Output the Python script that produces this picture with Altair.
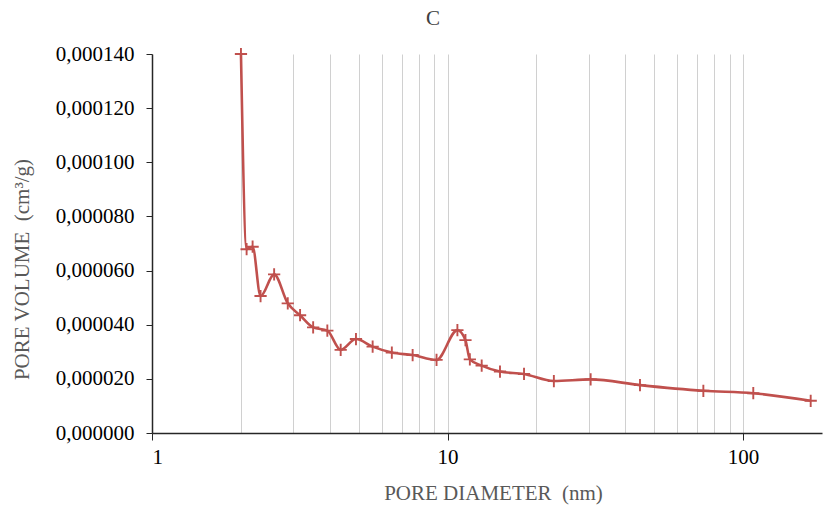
import altair as alt
import pandas as pd

# Pore size distribution, sample C
diameter_nm = [2.00, 2.09, 2.19, 2.33, 2.59, 2.88, 3.17, 3.51, 3.92, 4.35, 4.90,
               5.58, 6.48, 7.62, 9.18, 10.8, 11.5, 11.9, 13.05, 15.05, 18.15,
               22.9, 30.5, 44.8, 73.4, 108.3, 169.4]
pore_volume = [0.000140, 0.0000679, 0.0000688, 0.0000506, 0.0000586, 0.0000479,
               0.0000435, 0.0000390, 0.0000378, 0.0000307, 0.0000347, 0.0000319,
               0.0000297, 0.0000288, 0.0000270, 0.0000380, 0.0000343, 0.0000272,
               0.0000249, 0.0000227, 0.0000218, 0.0000192, 0.0000198, 0.0000177,
               0.0000156, 0.0000147, 0.0000119]

x_grid = [1, 2, 3, 4, 5, 6, 7, 8, 9, 10, 20, 30, 40, 50, 60, 70, 80, 90, 100]
x_major = [1, 10, 100]
y_ticks = [0, 0.00002, 0.00004, 0.00006, 0.00008, 0.00010, 0.00012, 0.00014]

df = pd.DataFrame({"d": diameter_nm, "v": pore_volume})

SERIF = "Liberation Serif"
RED = "#c0504d"
major_test = "indexof([1, 10, 100], datum.value) >= 0"
NBSP = "\u00a0"

x_enc = alt.X(
    "d:Q",
    scale=alt.Scale(type="log", domain=[1, 185], nice=False, clamp=False),
    axis=alt.Axis(
        values=x_grid,
        grid=True,
        gridColor="#d0d0d0",
        gridWidth=1,
        labelExpr=f"{major_test} ? format(datum.value, 'd') : ''",
        labelOverlap=False,
        labelFont=SERIF,
        labelFontSize=21,
        labelColor="#000000",
        labelPadding=6,
        tickSize=7,
        tickColor="#262626",
        tickOpacity={"condition": {"test": major_test, "value": 1}, "value": 0},
        domainColor="#262626",
        domainWidth=1.5,
        title=f"PORE DIAMETER{NBSP}{NBSP}(nm)",
        titleFont=SERIF,
        titleFontSize=21,
        titleFontWeight="normal",
        titleColor="#595959",
        titleAlign="center",
        titleBaseline="alphabetic",
        titleX=341,
        titleY=66,
    ),
)

y_enc = alt.Y(
    "v:Q",
    scale=alt.Scale(domain=[0, 0.00014], nice=False),
    axis=alt.Axis(
        values=y_ticks,
        grid=False,
        labelExpr="replace(format(datum.value, '.6f'), '.', ',')",
        labelFont=SERIF,
        labelFontSize=21,
        labelColor="#000000",
        labelPadding=12,
        tickSize=6,
        tickColor="#262626",
        domainColor="#262626",
        domainWidth=1.5,
        title=f"PORE VOLUME{NBSP}{NBSP}(cm³/g)",
        titleFont=SERIF,
        titleFontSize=21,
        titleFontWeight="normal",
        titleColor="#595959",
        titleAngle=270,
        titleAlign="center",
        titleBaseline="middle",
        titleX=-130,
        titleY=215,
    ),
)

line = alt.Chart(df).mark_line(
    color=RED, strokeWidth=2.6, interpolate="monotone"
).encode(x=x_enc, y=y_enc)

points = alt.Chart(df).mark_point(
    shape="M-1,0L1,0M0,-1L0,1",
    filled=False,
    color=RED,
    strokeWidth=1.9,
    size=150,
    opacity=1,
).encode(x="d:Q", y="v:Q")

chart = (
    alt.layer(line, points)
    .properties(
        width=670,
        height=379,
        autosize="none",
        padding={"left": 152, "top": 54, "right": 2, "bottom": 74},
        background="white",
        title=alt.TitleParams(
            "C",
            font=SERIF,
            fontSize=21,
            fontWeight="normal",
            color="#404040",
            anchor="middle",
            dx=-54,
            offset=14,
        ),
    )
    .configure_view(stroke=None)
)

chart.save("out.html", embed_options={"renderer": "svg", "actions": False})
